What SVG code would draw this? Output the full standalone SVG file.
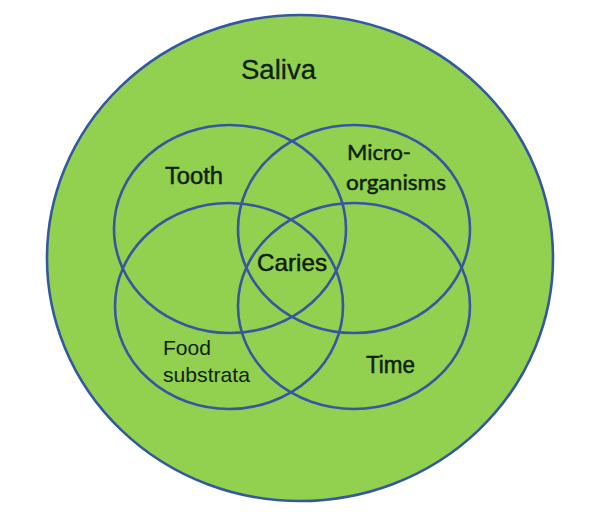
<svg xmlns="http://www.w3.org/2000/svg" width="600" height="517" viewBox="0 0 600 517">
  <style>
    .set { fill: none; stroke: #34589f; stroke-width: 2.6; }
    .outer { fill: #92d050; stroke: #34589f; stroke-width: 2.6; }
    .lbl { font-family: "Liberation Sans", Arial, sans-serif; fill: #0f1f08; }
    .heavy { stroke: #0f1f08; stroke-width: 0.5; }
    .cal { font-family: Lato, "Liberation Sans", sans-serif; fill: #0f1f08; stroke: #0f1f08; stroke-width: 0.45; }
  </style>
  <rect width="600" height="517" fill="#ffffff"/>
  <g id="saliva">
    <ellipse class="outer" cx="300" cy="258" rx="253" ry="243"/>
    <text class="lbl" x="241" y="79" font-size="27" textLength="75" lengthAdjust="spacingAndGlyphs" stroke="#0f1f08" stroke-width="0.3">Saliva</text>
  </g>
  <g id="tooth">
    <ellipse class="set" cx="230" cy="229" rx="116" ry="104"/>
    <text class="lbl heavy" x="165" y="184" font-size="23" textLength="58" lengthAdjust="spacingAndGlyphs">Tooth</text>
  </g>
  <g id="microorganisms">
    <ellipse class="set" cx="354" cy="229" rx="116" ry="104"/>
    <text class="cal" x="347" y="160" font-size="21" textLength="64" lengthAdjust="spacingAndGlyphs">Micro-</text>
    <text class="cal" x="346" y="190" font-size="21" textLength="100" lengthAdjust="spacingAndGlyphs">organisms</text>
  </g>
  <g id="food-substrata">
    <ellipse class="set" cx="229" cy="306" rx="114" ry="103"/>
    <text class="lbl" x="163" y="355" font-size="21" textLength="48" lengthAdjust="spacingAndGlyphs">Food</text>
    <text class="lbl" x="163" y="382" font-size="21" textLength="87" lengthAdjust="spacingAndGlyphs">substrata</text>
  </g>
  <g id="time">
    <ellipse class="set" cx="354" cy="306" rx="116" ry="103"/>
    <text class="lbl heavy" x="366" y="373" font-size="23" textLength="49" lengthAdjust="spacingAndGlyphs">Time</text>
  </g>
  <g id="caries">
    <text class="lbl heavy" x="257" y="271" font-size="24" textLength="70" lengthAdjust="spacingAndGlyphs">Caries</text>
  </g>
</svg>
